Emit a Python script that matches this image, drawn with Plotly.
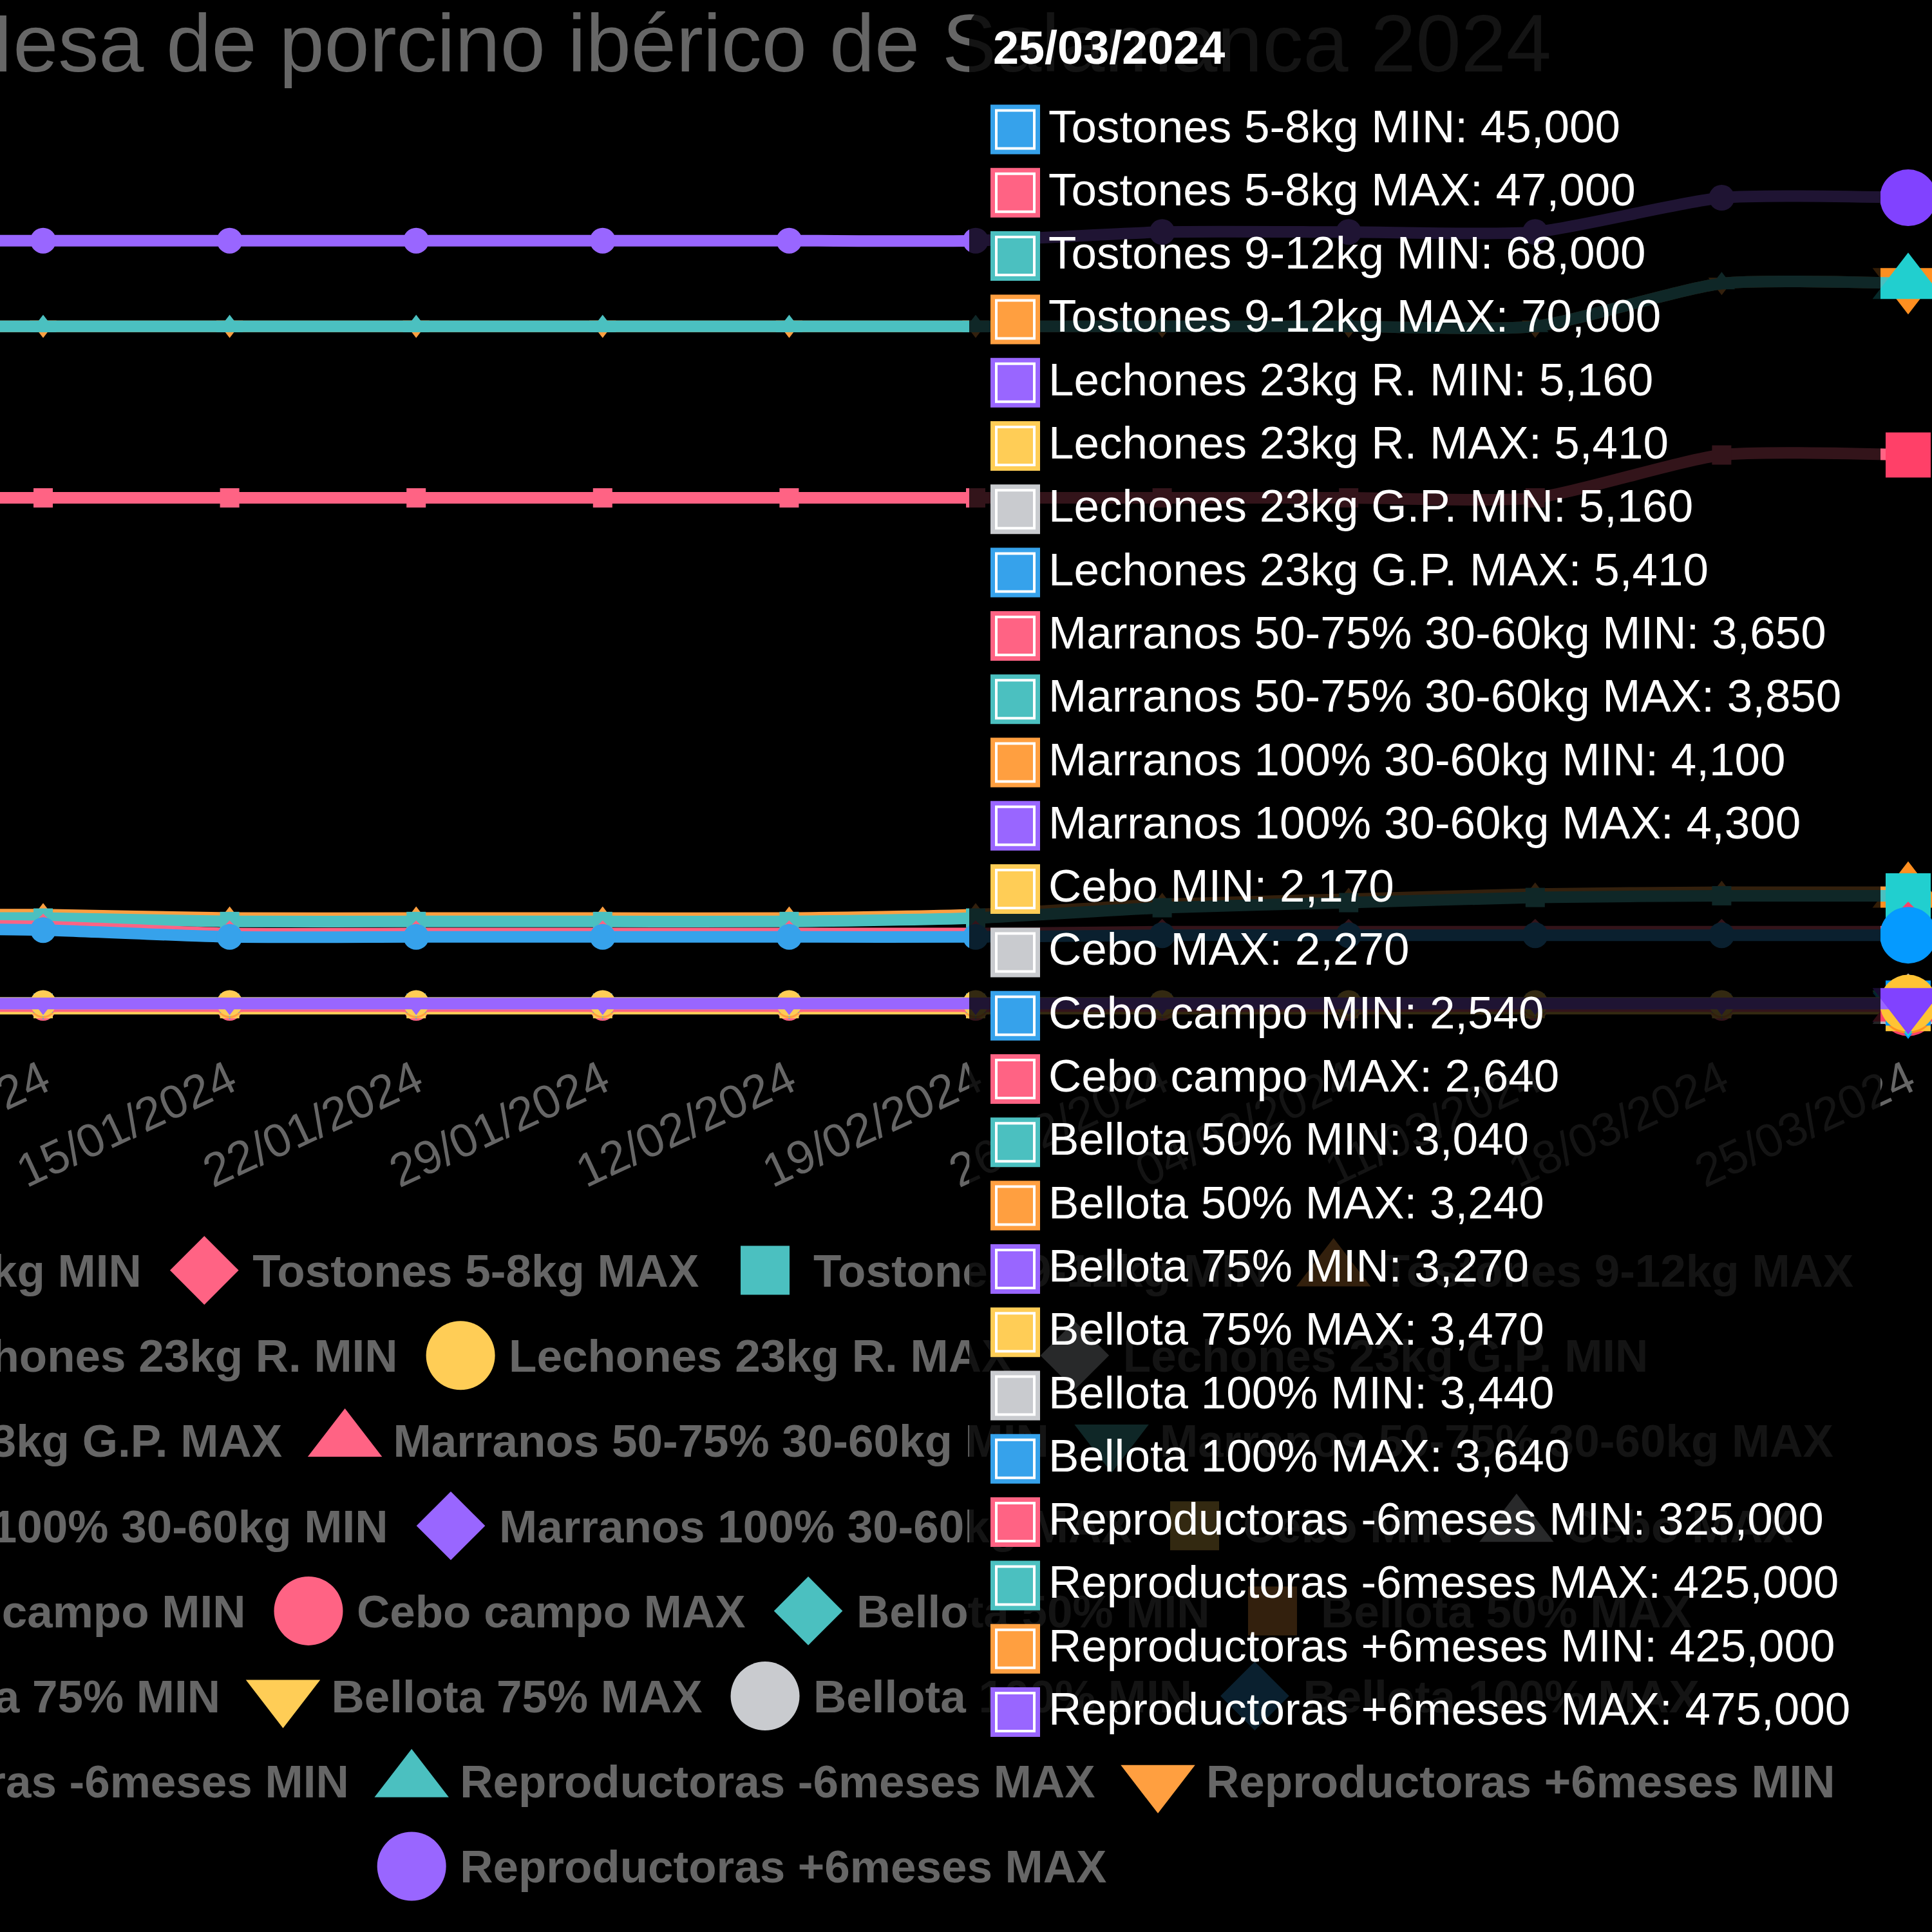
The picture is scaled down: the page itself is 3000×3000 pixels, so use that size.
import plotly.graph_objects as go

# ---------------- data ----------------
# (the first date lies just off the left edge of the visible area)
dates = ["02/01/2024", "08/01/2024", "15/01/2024", "22/01/2024", "29/01/2024", "12/02/2024",
         "19/02/2024", "26/02/2024", "04/03/2024", "11/03/2024", "18/03/2024",
         "25/03/2024"]

names = [
    "Tostones 5-8kg MIN", "Tostones 5-8kg MAX", "Tostones 9-12kg MIN", "Tostones 9-12kg MAX",
    "Lechones 23kg R. MIN", "Lechones 23kg R. MAX", "Lechones 23kg G.P. MIN", "Lechones 23kg G.P. MAX",
    "Marranos 50-75% 30-60kg MIN", "Marranos 50-75% 30-60kg MAX",
    "Marranos 100% 30-60kg MIN", "Marranos 100% 30-60kg MAX",
    "Cebo MIN", "Cebo MAX", "Cebo campo MIN", "Cebo campo MAX",
    "Bellota 50% MIN", "Bellota 50% MAX", "Bellota 75% MIN", "Bellota 75% MAX",
    "Bellota 100% MIN", "Bellota 100% MAX",
    "Reproductoras -6meses MIN", "Reproductoras -6meses MAX",
    "Reproductoras +6meses MIN", "Reproductoras +6meses MAX",
]

tostones_5_8_min = [49, 48, 44, 44, 44, 44, 44, 45, 45, 45, 45, 45]
tostones_5_8_max = [51, 50, 46, 46, 46, 46, 46, 47, 47, 47, 47, 47]
tostones_9_12_min = [55, 55, 53, 53, 53, 53, 55, 61, 64, 67, 68, 68]
tostones_9_12_max = [57, 57, 55, 55, 55, 55, 57, 63, 66, 69, 70, 70]
lechones_r_min = [5.16, 5.16, 5.16, 5.16, 5.16, 5.16, 5.16, 5.16, 5.16, 5.16, 5.16, 5.16]
lechones_r_max = [5.41, 5.41, 5.41, 5.41, 5.41, 5.41, 5.41, 5.41, 5.41, 5.41, 5.41, 5.41]
lechones_gp_min = [5.16, 5.16, 5.16, 5.16, 5.16, 5.16, 5.16, 5.16, 5.16, 5.16, 5.16, 5.16]
lechones_gp_max = [5.41, 5.41, 5.41, 5.41, 5.41, 5.41, 5.41, 5.41, 5.41, 5.41, 5.41, 5.41]
marranos_50_min = [3.65, 3.65, 3.65, 3.65, 3.65, 3.65, 3.65, 3.65, 3.65, 3.65, 3.65, 3.65]
marranos_50_max = [3.85, 3.85, 3.85, 3.85, 3.85, 3.85, 3.85, 3.85, 3.85, 3.85, 3.85, 3.85]
marranos_100_min = [4.10, 4.10, 4.10, 4.10, 4.10, 4.10, 4.10, 4.10, 4.10, 4.10, 4.10, 4.10]
marranos_100_max = [4.30, 4.30, 4.30, 4.30, 4.30, 4.30, 4.30, 4.30, 4.30, 4.30, 4.30, 4.30]
cebo_min = [2.17, 2.17, 2.17, 2.17, 2.17, 2.17, 2.17, 2.17, 2.17, 2.17, 2.17, 2.17]
cebo_max = [2.27, 2.27, 2.27, 2.27, 2.27, 2.27, 2.27, 2.27, 2.27, 2.27, 2.27, 2.27]
cebo_campo_min = [2.54, 2.54, 2.54, 2.54, 2.54, 2.54, 2.54, 2.54, 2.54, 2.54, 2.54, 2.54]
cebo_campo_max = [2.64, 2.64, 2.64, 2.64, 2.64, 2.64, 2.64, 2.64, 2.64, 2.64, 2.64, 2.64]
bellota_50_min = [3.04, 3.04, 3.04, 3.04, 3.04, 3.04, 3.04, 3.04, 3.04, 3.04, 3.04, 3.04]
bellota_50_max = [3.24, 3.24, 3.24, 3.24, 3.24, 3.24, 3.24, 3.24, 3.24, 3.24, 3.24, 3.24]
bellota_75_min = [3.27, 3.27, 3.27, 3.27, 3.27, 3.27, 3.27, 3.27, 3.27, 3.27, 3.27, 3.27]
bellota_75_max = [3.47, 3.47, 3.47, 3.47, 3.47, 3.47, 3.47, 3.47, 3.47, 3.47, 3.47, 3.47]
bellota_100_min = [3.44, 3.44, 3.44, 3.44, 3.44, 3.44, 3.44, 3.44, 3.44, 3.44, 3.44, 3.44]
bellota_100_max = [3.64, 3.64, 3.64, 3.64, 3.64, 3.64, 3.64, 3.64, 3.64, 3.64, 3.64, 3.64]
repro_m6_min = [300, 300, 300, 300, 300, 300, 300, 300, 300, 300, 325, 325]
repro_m6_max = [400, 400, 400, 400, 400, 400, 400, 400, 400, 400, 425, 425]
repro_p6_min = [400, 400, 400, 400, 400, 400, 400, 400, 400, 400, 425, 425]
repro_p6_max = [450, 450, 450, 450, 450, 450, 450, 455, 455, 455, 475, 475]

series_values = [
    tostones_5_8_min, tostones_5_8_max, tostones_9_12_min, tostones_9_12_max,
    lechones_r_min, lechones_r_max, lechones_gp_min, lechones_gp_max,
    marranos_50_min, marranos_50_max, marranos_100_min, marranos_100_max,
    cebo_min, cebo_max, cebo_campo_min, cebo_campo_max,
    bellota_50_min, bellota_50_max, bellota_75_min, bellota_75_max,
    bellota_100_min, bellota_100_max,
    repro_m6_min, repro_m6_max, repro_p6_min, repro_p6_max,
]

TITLE = "Mesa de porcino ibérico de Salamanca 2024"

# ---------------- styles / layout constants ----------------
W = H = 3000
FONT = "Liberation Sans"
GREY = "#666666"
COLORS = ["rgb(54,162,235)", "rgb(255,99,132)", "rgb(75,192,192)", "rgb(255,159,64)",
          "rgb(153,102,255)", "rgb(255,205,86)", "rgb(201,203,207)"]
HOVER_COLORS = ["rgb(5,154,255)", "rgb(255,64,104)", "rgb(33,207,207)", "rgb(255,143,32)",
                "rgb(129,66,255)", "rgb(255,195,52)", "rgb(177,181,190)"]
SYMBOLS = ["circle", "diamond", "square", "triangle-up", "triangle-down"]
PT_SIZE = {"circle": 40, "diamond": 31, "square": 30, "triangle-up": 36, "triangle-down": 36}
HOVER_SIZE = {"circle": 88, "diamond": 72, "square": 70, "triangle-up": 96, "triangle-down": 96}
LEG_SIZE = {"circle": 107, "diamond": 82, "square": 76, "triangle-up": 100, "triangle-down": 100}

# pixel geometry of the (partly off-screen) chart area
X_STEP_PX = 289.6
X_FIRST_PX = 67.0 - X_STEP_PX          # pixel of the first category (off-screen)
Y_ZERO_PX, PX_PER_UNIT = 1572.0, 2.663
PLOT_TOP, PLOT_BOTTOM = 150.0, 1620.0

x_range = [(0 - X_FIRST_PX) / X_STEP_PX, (W - X_FIRST_PX) / X_STEP_PX]
y_range = [(Y_ZERO_PX - PLOT_BOTTOM) / PX_PER_UNIT, (Y_ZERO_PX - PLOT_TOP) / PX_PER_UNIT]

fig = go.Figure()

# ---------------- data lines (first dataset on top, as in the original) ----------------
n = len(dates)
for i in reversed(range(len(names))):
    col = COLORS[i % 7]
    sym = SYMBOLS[i % 5]
    fig.add_trace(go.Scatter(
        x=dates, y=series_values[i], mode="lines+markers", name=names[i],
        line=dict(color=col, width=18, shape="spline", smoothing=0.6),
        marker=dict(symbol=sym, opacity=1,
                    size=[PT_SIZE[sym]] * (n - 1) + [HOVER_SIZE[sym]],
                    color=[col] * (n - 1) + [HOVER_COLORS[i % 7]],
                    line=dict(width=0)),
        cliponaxis=False, showlegend=False, hoverinfo="skip",
        xaxis="x", yaxis="y"))

# ---------------- chart title (drawn in pixel space, partly off-screen) ----------------
CENTER_X = 1152.0
TITLE_CENTER_X = 1162.0
TITLE_SIZE = 126
TITLE_BASELINE = 111.0
fig.add_trace(go.Scatter(
    x=[TITLE_CENTER_X], y=[TITLE_BASELINE - 0.25 * TITLE_SIZE], mode="text", text=[TITLE],
    textposition="middle center",
    textfont=dict(family=FONT, size=TITLE_SIZE, color=GREY),
    cliponaxis=False, showlegend=False, hoverinfo="skip", xaxis="x2", yaxis="y2"))

# ---------------- legend (centred rows, like the original) ----------------
BOLD_W = {" ": 278, "%": 889, "+": 584, "-": 333, ".": 278,
          "0": 556, "1": 556, "2": 556, "3": 556, "4": 556, "5": 556, "6": 556, "7": 556, "8": 556, "9": 556,
          "A": 722, "B": 722, "C": 722, "G": 778, "I": 278, "L": 611, "M": 833, "N": 722, "P": 667,
          "R": 722, "T": 611, "X": 667,
          "a": 556, "b": 611, "c": 556, "d": 611, "e": 556, "g": 611, "h": 611, "k": 556, "l": 278,
          "m": 889, "n": 611, "o": 611, "p": 611, "r": 389, "s": 556, "t": 333, "u": 611}
LEG_FONT = 71
LEG_HALF = 53.5       # half symbol box
LEG_TO_TEXT = 75.0    # symbol centre -> text start
LEG_GAP = 44.0        # text end -> next symbol box
LEG_MAX_W = 3560.0
LEG_ROW0 = 1972.6
LEG_ROW_H = 132.2


def text_w(s, size):
    return sum(BOLD_W.get(ch, 556) for ch in s) / 1000.0 * size


rows, cur, cur_w = [], [], 0.0
for i, nm in enumerate(names):
    w = LEG_HALF + LEG_TO_TEXT + text_w(nm, LEG_FONT)
    new_w = w if not cur else cur_w + LEG_GAP + w
    if cur and new_w > LEG_MAX_W:
        rows.append((cur, cur_w))
        cur, cur_w = [i], w
    else:
        cur.append(i)
        cur_w = new_w
rows.append((cur, cur_w))

leg_sx, leg_sy, leg_sym, leg_size, leg_col = [], [], [], [], []
leg_tx, leg_ty, leg_txt, leg_pos = [], [], [], []
for r, (items, rw) in enumerate(rows):
    yrow = LEG_ROW0 + r * LEG_ROW_H
    left = CENTER_X - rw / 2.0
    for i in items:
        sym = SYMBOLS[i % 5]
        sx = left + LEG_HALF
        tstart = sx + LEG_TO_TEXT
        tend = tstart + text_w(names[i], LEG_FONT)
        leg_sx.append(sx); leg_sy.append(yrow)
        leg_sym.append(sym); leg_size.append(LEG_SIZE[sym]); leg_col.append(COLORS[i % 7])
        # texts starting off-screen are anchored at their end so they still get drawn
        if tstart < 0:
            leg_tx.append(tend); leg_pos.append("middle left")
        else:
            leg_tx.append(tstart); leg_pos.append("middle right")
        leg_ty.append(yrow + 0.108 * LEG_FONT); leg_txt.append(names[i])
        left = tend + LEG_GAP

fig.add_trace(go.Scatter(
    x=leg_sx, y=leg_sy, mode="markers",
    marker=dict(symbol=leg_sym, size=leg_size, color=leg_col, opacity=1, line=dict(width=0)),
    cliponaxis=False, showlegend=False, hoverinfo="skip", xaxis="x2", yaxis="y2"))
fig.add_trace(go.Scatter(
    x=leg_tx, y=leg_ty, mode="text", text=leg_txt, textposition=leg_pos,
    textfont=dict(family=FONT, size=LEG_FONT, color=GREY, weight="bold"),
    cliponaxis=False, showlegend=False, hoverinfo="skip", xaxis="x2", yaxis="y2"))

# ---------------- tooltip for the last date ----------------
TT_L, TT_R, TT_T, TT_B, TT_RAD = 1505.0, 2920.0, 13.0, 2722.0, 35.0
TT_BOX_L, TT_BOX = 1538.0, 77.0
TT_TEXT_X = 1626.0
TT_BODY_Y0, TT_LINE_H = 196.0, 98.3
TT_FONT = 71

shapes = []
path = (f"M{TT_L + TT_RAD},{TT_T} L{TT_R - TT_RAD},{TT_T} Q{TT_R},{TT_T} {TT_R},{TT_T + TT_RAD} "
        f"L{TT_R},{TT_B - TT_RAD} Q{TT_R},{TT_B} {TT_R - TT_RAD},{TT_B} "
        f"L{TT_L + TT_RAD},{TT_B} Q{TT_L},{TT_B} {TT_L},{TT_B - TT_RAD} "
        f"L{TT_L},{TT_T + TT_RAD} Q{TT_L},{TT_T} {TT_L + TT_RAD},{TT_T} Z")
shapes.append(dict(type="path", path=path, xref="x2", yref="y2", layer="above",
                   fillcolor="rgba(0,0,0,0.8)", line=dict(width=0)))

annotations = [dict(x=1540, y=74, xref="x2", yref="y2", xanchor="left", yanchor="middle",
                    text="<b>" + dates[-1] + "</b>", showarrow=False,
                    font=dict(family=FONT, size=72, color="white"))]

for k, nm in enumerate(names):
    yc = TT_BODY_Y0 + k * TT_LINE_H
    by = yc + 5
    col = COLORS[k % 7]
    shapes.append(dict(type="rect", xref="x2", yref="y2", layer="above",
                       x0=TT_BOX_L, x1=TT_BOX_L + TT_BOX, y0=by - TT_BOX / 2, y1=by + TT_BOX / 2,
                       fillcolor=col, line=dict(width=0)))
    shapes.append(dict(type="rect", xref="x2", yref="y2", layer="above",
                       x0=TT_BOX_L + 9, x1=TT_BOX_L + TT_BOX - 9, y0=by - TT_BOX / 2 + 9, y1=by + TT_BOX / 2 - 9,
                       fillcolor=col, line=dict(width=4, color="white")))
    val = series_values[k][-1]
    label = f"{nm}: " + f"{val:.3f}".replace(".", ",")
    annotations.append(dict(x=TT_TEXT_X, y=yc, xref="x2", yref="y2", xanchor="left", yanchor="middle",
                            text=label, showarrow=False,
                            font=dict(family=FONT, size=TT_FONT, color="white")))

fig.update_layout(
    width=W, height=H, autosize=False,
    margin=dict(l=0, r=0, t=0, b=0, pad=0, autoexpand=False),
    paper_bgcolor="black", plot_bgcolor="rgba(0,0,0,0)",
    showlegend=False, hovermode=False,
    xaxis=dict(domain=[0, 1], anchor="y", type="category", categoryorder="array", categoryarray=dates,
               range=x_range, automargin=False, showgrid=False, zeroline=False, showline=False, ticks="",
               tickmode="array", tickvals=dates, ticktext=dates, tickangle=-25,
               tickfont=dict(family=FONT, size=73, color=GREY)),
    yaxis=dict(domain=[1 - PLOT_BOTTOM / H, 1 - PLOT_TOP / H], anchor="x", range=y_range,
               automargin=False, visible=False, showgrid=False, zeroline=False),
    xaxis2=dict(domain=[0, 1], anchor="y2", range=[0, W], visible=False, automargin=False),
    yaxis2=dict(domain=[0, 1], anchor="x2", range=[H, 0], visible=False, automargin=False),
    shapes=shapes, annotations=annotations,
)

fig.write_html("out.html")
